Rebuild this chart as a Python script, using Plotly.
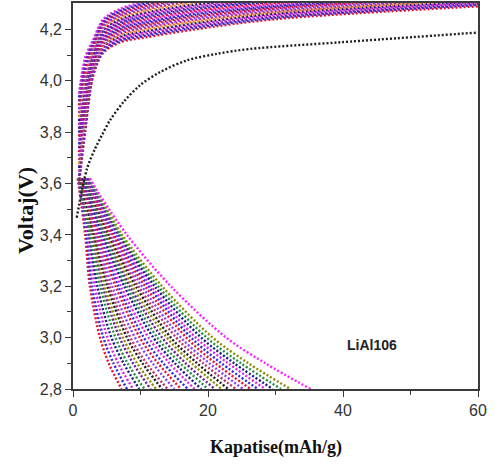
import plotly.graph_objects as go

# ---- first charge (cycle 1) ----
first_charge_cap = [0.55, 2.1, 3.3, 4.3, 5.5, 7.5, 9.9, 12.9, 16.8, 21.3, 26.2, 39.6, 60.0]
first_charge_v = [3.467, 3.66, 3.737, 3.789, 3.847, 3.918, 3.982, 4.034, 4.079, 4.105, 4.124, 4.15, 4.188]

# ---- later charge curves: voltage at fixed capacities ----
charge_cap = [0.9, 1.8, 3.0, 4.5, 7.0, 11.0, 18.0, 30.0, 60.0]
charge_v = [
    [3.600, 3.800, 4.020, 4.110, 4.150, 4.170, 4.200, 4.240, 4.290],
    [3.615, 3.813, 4.026, 4.116, 4.156, 4.176, 4.206, 4.245, 4.295],
    [3.630, 3.825, 4.032, 4.121, 4.161, 4.182, 4.212, 4.250, 4.300],
    [3.646, 3.838, 4.038, 4.127, 4.167, 4.188, 4.218, 4.256, 4.304],
    [3.661, 3.850, 4.044, 4.133, 4.173, 4.194, 4.224, 4.261, 4.309],
    [3.676, 3.863, 4.050, 4.138, 4.178, 4.200, 4.230, 4.266, 4.314],
    [3.691, 3.876, 4.057, 4.144, 4.184, 4.207, 4.237, 4.271, 4.319],
    [3.707, 3.888, 4.063, 4.150, 4.190, 4.213, 4.243, 4.277, 4.323],
    [3.722, 3.901, 4.069, 4.155, 4.195, 4.219, 4.249, 4.282, 4.328],
    [3.737, 3.913, 4.075, 4.161, 4.201, 4.225, 4.255, 4.287, 4.333],
    [3.752, 3.926, 4.081, 4.167, 4.207, 4.231, 4.261, 4.292, 4.338],
    [3.767, 3.939, 4.087, 4.172, 4.212, 4.237, 4.267, 4.297, 4.343],
    [3.783, 3.951, 4.093, 4.178, 4.218, 4.243, 4.273, 4.303, 4.347],
    [3.798, 3.964, 4.099, 4.183, 4.223, 4.249, 4.279, 4.308, 4.352],
    [3.813, 3.977, 4.105, 4.189, 4.229, 4.255, 4.285, 4.313, 4.357],
    [3.828, 3.989, 4.111, 4.195, 4.235, 4.261, 4.291, 4.318, 4.362],
    [3.843, 4.002, 4.117, 4.200, 4.240, 4.267, 4.297, 4.323, 4.367],
    [3.859, 4.014, 4.123, 4.206, 4.246, 4.273, 4.303, 4.329, 4.371],
    [3.874, 4.027, 4.130, 4.212, 4.252, 4.280, 4.310, 4.334, 4.376],
    [3.889, 4.040, 4.136, 4.217, 4.257, 4.286, 4.316, 4.339, 4.381],
    [3.904, 4.052, 4.142, 4.223, 4.263, 4.292, 4.322, 4.344, 4.386],
    [3.920, 4.065, 4.148, 4.229, 4.269, 4.298, 4.328, 4.350, 4.390],
    [3.935, 4.077, 4.154, 4.234, 4.274, 4.304, 4.334, 4.355, 4.395],
    [3.950, 4.090, 4.160, 4.240, 4.280, 4.310, 4.340, 4.360, 4.400],
]
charge_colors = ["#e8102a", "#2a2ae0", "#6a1b9a", "#e020e0", "#1a1a80", "#f08a20",
                 "#c0306a", "#8040ff", "#e8102a", "#6a1b9a", "#2a2ae0", "#e020e0"]

# ---- discharge curves: capacity reached at fixed voltages ----
discharge_v = [3.62, 3.4, 3.2, 3.0, 2.9, 2.8]
discharge_cap = [
    [0.7, 1.8, 2.5, 4.0, 5.3, 7.2],
    [0.8, 2.0, 2.8, 4.5, 6.0, 8.0],
    [0.8, 2.2, 3.2, 5.1, 6.7, 8.9],
    [0.9, 2.4, 3.6, 5.7, 7.5, 9.8],
    [0.9, 2.5, 4.0, 6.3, 8.1, 10.6],
    [1.0, 2.8, 4.4, 6.9, 8.9, 11.5],
    [1.1, 2.9, 4.7, 7.4, 9.5, 12.3],
    [1.1, 3.1, 5.1, 8.0, 10.3, 13.2],
    [1.2, 3.3, 5.4, 8.5, 10.9, 14.0],
    [1.3, 3.5, 5.8, 9.2, 11.8, 15.0],
    [1.3, 3.7, 6.3, 9.9, 12.6, 16.0],
    [1.4, 4.0, 6.7, 10.5, 13.4, 17.0],
    [1.5, 4.2, 7.1, 11.2, 14.3, 18.0],
    [1.5, 4.4, 7.6, 11.9, 15.1, 19.0],
    [1.6, 4.6, 8.0, 12.5, 15.9, 20.0],
    [1.7, 4.9, 8.4, 13.2, 16.7, 21.0],
    [1.8, 5.1, 8.8, 13.9, 17.6, 22.0],
    [1.8, 5.3, 9.3, 14.5, 18.4, 23.0],
    [1.9, 5.5, 9.7, 15.3, 19.3, 24.1],
    [2.0, 5.8, 10.2, 16.0, 20.2, 25.2],
    [2.1, 6.0, 10.7, 16.8, 21.1, 26.3],
    [2.1, 6.3, 11.2, 17.5, 22.0, 27.4],
    [2.2, 6.5, 11.6, 18.2, 23.0, 28.5],
    [2.3, 6.8, 12.1, 19.0, 23.9, 29.6],
    [2.4, 7.0, 12.6, 19.8, 24.9, 30.8],
    [2.5, 7.3, 13.2, 20.7, 26.0, 32.2],
    [2.4, 8.0, 14.5, 22.7, 28.5, 35.2],
]
discharge_colors = ["#e8102a", "#2a2ae0", "#e020e0", "#1a1a80", "#209040", "#6a1b9a",
                    "#8a8a00", "#202020", "#c0306a", "#8040ff"]

x_ticks = [0, 20, 40, 60]
y_ticks = [2.8, 3.0, 3.2, 3.4, 3.6, 3.8, 4.0, 4.2]

DOT = "2px,2px"
LW = 2.4
fig = go.Figure()

for i, v in enumerate(charge_v):
    fig.add_trace(go.Scatter(
        x=charge_cap, y=v, mode="lines",
        line=dict(color=charge_colors[i % len(charge_colors)], width=LW,
                  dash=DOT, shape="spline", smoothing=0.9),
        hoverinfo="skip", showlegend=False))

for i, c in enumerate(discharge_cap):
    if i == len(discharge_cap) - 1:
        col = "#ff20ff"
    elif i == len(discharge_cap) - 2:
        col = "#8a8a00"
    else:
        col = discharge_colors[i % len(discharge_colors)]
    fig.add_trace(go.Scatter(
        x=c, y=discharge_v, mode="lines",
        line=dict(color=col, width=LW, dash=DOT, shape="spline", smoothing=0.9),
        hoverinfo="skip", showlegend=False))

fig.add_trace(go.Scatter(
    x=first_charge_cap, y=first_charge_v, mode="lines",
    line=dict(color="#202020", width=LW, dash=DOT, shape="spline", smoothing=0.9),
    hoverinfo="skip", showlegend=False))

axis_common = dict(
    showline=True, linecolor="#3a3a3a", linewidth=1.6, mirror=True,
    ticks="outside", ticklen=6, tickwidth=1.4, tickcolor="#3a3a3a",
    showgrid=False, zeroline=False,
    tickfont=dict(family="Liberation Sans", size=16, color="#333333"),
)

fig.update_xaxes(range=[0, 60], tickvals=x_ticks,
                 minor=dict(tickvals=[10, 30, 50], ticks="outside", ticklen=4,
                            tickcolor="#3a3a3a", tickwidth=1.2),
                 **axis_common)
fig.update_yaxes(range=[2.8, 4.303], tickvals=y_ticks, tickformat=".1f",
                 minor=dict(tickvals=[2.9, 3.1, 3.3, 3.5, 3.7, 3.9, 4.1],
                            ticks="outside", ticklen=4,
                            tickcolor="#3a3a3a", tickwidth=1.2),
                 **axis_common)

fig.add_annotation(text="Kapatise(mAh/g)", xref="paper", yref="paper",
                   x=0.5, y=-0.152, showarrow=False, xanchor="center", yanchor="middle",
                   font=dict(family="Liberation Serif", size=18, color="#111111", weight="bold"))
fig.add_annotation(text="Voltaj(V)", xref="paper", yref="paper",
                   x=-0.1185, y=0.461, showarrow=False, textangle=-90,
                   xanchor="center", yanchor="middle",
                   font=dict(family="Liberation Serif", size=22, color="#111111", weight="bold"))
fig.add_annotation(text="LiAl106", x=44.3, y=2.97, showarrow=False,
                   font=dict(family="Liberation Sans", size=14, color="#222222", weight="bold"))

fig.update_layout(
    width=499, height=472,
    margin=dict(l=73, r=21, t=1, b=83),
    paper_bgcolor="white", plot_bgcolor="white",
    separators=",.",
    showlegend=False,
)

fig.write_html("out.html")
